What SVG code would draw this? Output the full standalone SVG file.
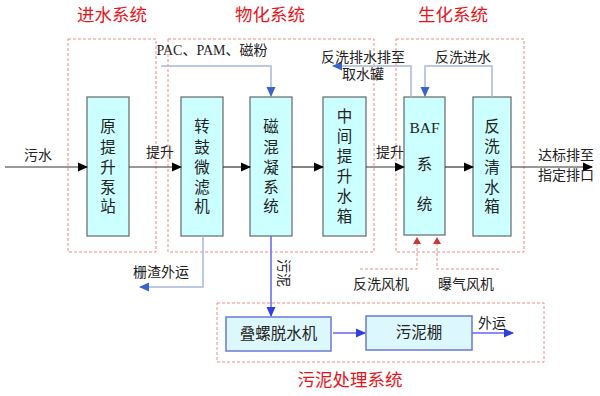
<svg xmlns="http://www.w3.org/2000/svg" width="600" height="396" viewBox="0 0 600 396">
<defs>
<marker id="ab" markerWidth="10" markerHeight="10" refX="9" refY="5" orient="auto" markerUnits="userSpaceOnUse"><path d="M0,0.5 L10,5 L0,9.5 Z" fill="#000"/></marker>
<marker id="abl" markerWidth="10" markerHeight="10" refX="9" refY="5" orient="auto" markerUnits="userSpaceOnUse"><path d="M0,0.5 L10,5 L0,9.5 Z" fill="#3a64c8"/></marker>
<marker id="apu" markerWidth="10" markerHeight="10" refX="9" refY="5" orient="auto" markerUnits="userSpaceOnUse"><path d="M0,0.5 L10,5 L0,9.5 Z" fill="#2f3fe0"/></marker>
</defs>
<style>
.sys{fill:none;stroke:#f08a8a;stroke-width:1;stroke-dasharray:3,2}
.title{font-family:"Noto Sans CJK SC",sans-serif;font-size:17.5px;fill:#e8141c;text-anchor:middle}
.box{fill:#ccffff;stroke:#666;stroke-width:1.2}
.sbox{fill:#ddf8fc;stroke:#6a78d8;stroke-width:1.5}
.t{font-family:"Liberation Serif","Noto Sans CJK SC",serif;font-size:15.5px;fill:#222;text-anchor:middle}
.lab{font-family:"Liberation Serif","Noto Sans CJK SC",serif;font-size:14px;fill:#222;text-anchor:middle}
.main{stroke:#333;stroke-width:1.2;fill:none}
.bl{stroke:#a8b8dc;stroke-width:1.5;fill:none}
.pu{stroke:#6464f0;stroke-width:1.5;fill:none}
.rd{stroke:#f08a8a;stroke-width:1;stroke-dasharray:3,2;fill:none}
</style>
<rect width="600" height="396" fill="#fff"/>
<g id="systems">
<rect class="sys" x="68" y="39" width="88" height="213"/>
<rect class="sys" x="168" y="39" width="206" height="213"/>
<rect class="sys" x="396" y="39" width="128" height="213"/>
<rect class="sys" x="217" y="303" width="327" height="59"/>
<text class="title" x="112" y="21">进水系统</text>
<text class="title" x="270" y="21">物化系统</text>
<text class="title" x="453" y="21">生化系统</text>
<text class="title" x="350" y="386">污泥处理系统</text>
</g>
<g id="n1"><rect class="box" x="87" y="97" width="42" height="139"/>
<text class="t"><tspan x="108" y="132">原</tspan><tspan x="108" y="153">提</tspan><tspan x="108" y="173">升</tspan><tspan x="108" y="193">泵</tspan><tspan x="108" y="212">站</tspan></text></g>
<g id="n2"><rect class="box" x="181" y="97" width="42" height="139"/>
<text class="t"><tspan x="202" y="132">转</tspan><tspan x="202" y="153">鼓</tspan><tspan x="202" y="173">微</tspan><tspan x="202" y="193">滤</tspan><tspan x="202" y="212">机</tspan></text></g>
<g id="n3"><rect class="box" x="250" y="97" width="42" height="139"/>
<text class="t"><tspan x="271" y="132">磁</tspan><tspan x="271" y="153">混</tspan><tspan x="271" y="173">凝</tspan><tspan x="271" y="193">系</tspan><tspan x="271" y="212">统</tspan></text></g>
<g id="n4"><rect class="box" x="323" y="97" width="43" height="139"/>
<text class="t"><tspan x="344.5" y="122">中</tspan><tspan x="344.5" y="142">间</tspan><tspan x="344.5" y="162">提</tspan><tspan x="344.5" y="182">升</tspan><tspan x="344.5" y="202">水</tspan><tspan x="344.5" y="222">箱</tspan></text></g>
<g id="n5"><rect class="box" x="404" y="97" width="41" height="138"/>
<text class="t"><tspan x="424.5" y="133">BAF</tspan><tspan x="424.5" y="170">系</tspan><tspan x="424.5" y="210">统</tspan></text></g>
<g id="n6"><rect class="box" x="473" y="97" width="38" height="139"/>
<text class="t"><tspan x="492" y="132">反</tspan><tspan x="492" y="152">洗</tspan><tspan x="492" y="173">清</tspan><tspan x="492" y="193">水</tspan><tspan x="492" y="212">箱</tspan></text></g>
<g id="n7"><rect class="sbox" x="226" y="317" width="105" height="34"/>
<text class="t" x="278.5" y="339">叠螺脱水机</text></g>
<g id="n8"><rect class="sbox" x="366" y="316" width="106" height="34"/>
<text class="t" x="419" y="338">污泥棚</text></g>
<g id="connectors">
<line class="main" x1="5" y1="167" x2="87" y2="167" marker-end="url(#ab)"/>
<line class="main" x1="129" y1="167" x2="181" y2="167" marker-end="url(#ab)"/>
<line class="main" x1="223" y1="167" x2="250" y2="167" marker-end="url(#ab)"/>
<line class="main" x1="292" y1="167" x2="323" y2="167" marker-end="url(#ab)"/>
<line class="main" x1="366" y1="167" x2="404" y2="167" marker-end="url(#ab)"/>
<line class="main" x1="445" y1="167" x2="473" y2="167" marker-end="url(#ab)"/>
<line class="main" x1="511" y1="167" x2="592" y2="167" marker-end="url(#ab)"/>
<polyline class="bl" points="161,66 271,66 271,96" marker-end="url(#abl)"/>
<polyline class="bl" points="411,97 411,66 333,66" marker-end="url(#abl)"/>
<polyline class="bl" points="492,97 492,66 425,66 425,96" marker-end="url(#abl)"/>
<polyline class="bl" points="203,236 203,287 140,287" marker-end="url(#abl)"/>
<polyline class="pu" points="271,236 271,316" marker-end="url(#apu)"/>
<line class="pu" x1="333" y1="333" x2="365" y2="333" marker-end="url(#apu)"/>
<line class="pu" x1="472" y1="333" x2="513" y2="333" marker-end="url(#apu)"/>
<polyline class="rd" points="360,269 417,269 417,244"/>
<polyline class="rd" points="499,269 437,269 437,244"/>
<path d="M413,244 L417,237 L421,244 Z" fill="#c8383a"/>
<path d="M433,244 L437,237 L441,244 Z" fill="#c8383a"/>
</g>
<g id="labels">
<text class="lab" x="38" y="160">污水</text>
<text class="lab" x="160" y="157">提升</text>
<text class="lab" x="390" y="157">提升</text>
<text class="lab" x="212" y="55">PAC、PAM、磁粉</text>
<text class="lab" x="363" y="62">反洗排水排至</text>
<text class="lab" x="363" y="79">取水罐</text>
<text class="lab" x="463" y="62">反洗进水</text>
<text class="lab" x="566" y="160">达标排至</text>
<text class="lab" x="566" y="180">指定排口</text>
<text class="lab" x="161" y="277">栅渣外运</text>
<text class="lab" transform="translate(279,273) rotate(90)" x="0" y="0">污泥</text>
<text class="lab" x="381" y="289">反洗风机</text>
<text class="lab" x="466" y="289">曝气风机</text>
<text class="lab" x="492" y="328">外运</text>
</g>
</svg>
